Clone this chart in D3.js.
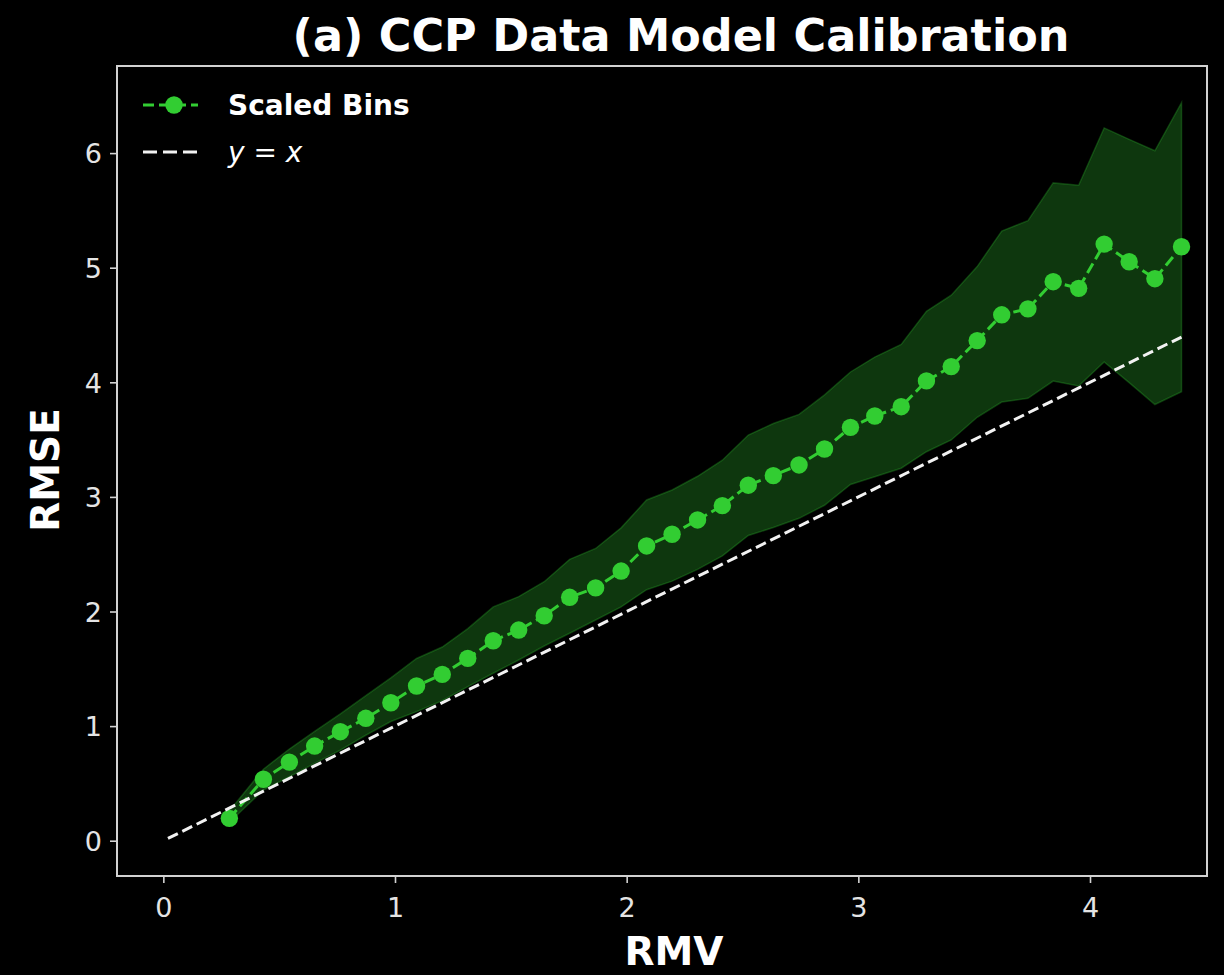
<!DOCTYPE html>
<html>
<head>
<meta charset="utf-8">
<script src="https://cdn.jsdelivr.net/npm/d3@7"></script>
<style>
  html, body { margin: 0; padding: 0; background: #000; }
  svg { display: block; font-family: "DejaVu Sans", sans-serif; }
</style>
</head>
<body>
<svg id="chart" width="1224" height="975"></svg>
<script>
// Binned calibration: mean predicted spread (RMV) vs observed error (RMSE)
const rmv = [0.285, 0.432, 0.544, 0.653, 0.764, 0.874, 0.982, 1.093, 1.204, 1.314,
             1.424, 1.534, 1.644, 1.754, 1.866, 1.976, 2.086, 2.196, 2.306, 2.413,
             2.525, 2.633, 2.744, 2.854, 2.966, 3.071, 3.185, 3.294, 3.401, 3.513,
             3.619, 3.732, 3.841, 3.951, 4.061, 4.169, 4.280, 4.395];
const rmse = [0.195, 0.536, 0.686, 0.826, 0.951, 1.068, 1.204, 1.350, 1.451, 1.591,
              1.745, 1.838, 1.963, 2.124, 2.206, 2.353, 2.572, 2.674, 2.799, 2.924,
              3.102, 3.186, 3.279, 3.418, 3.607, 3.706, 3.787, 4.012, 4.137, 4.364,
              4.589, 4.641, 4.878, 4.820, 5.206, 5.052, 4.904, 5.183];
const rmseUpper = [0.26, 0.624, 0.80, 0.953, 1.106, 1.265, 1.42, 1.59, 1.69, 1.85,
                   2.04, 2.13, 2.26, 2.455, 2.55, 2.73, 2.973, 3.06, 3.18, 3.32,
                   3.54, 3.64, 3.72, 3.89, 4.09, 4.22, 4.33, 4.62, 4.76, 5.01,
                   5.32, 5.41, 5.74, 5.72, 6.22, 6.12, 6.02, 6.44];
const rmseLower = [0.16, 0.442, 0.558, 0.675, 0.79, 0.92, 1.04, 1.126, 1.222, 1.344,
                   1.461, 1.577, 1.699, 1.81, 1.926, 2.04, 2.19, 2.265, 2.368, 2.485,
                   2.663, 2.733, 2.813, 2.927, 3.108, 3.176, 3.25, 3.394, 3.497, 3.695,
                   3.828, 3.86, 4.011, 3.968, 4.177, 3.997, 3.806, 3.918];
const identityRange = [0.02, 4.395];
const xTicks = [0, 1, 2, 3, 4];
const yTicks = [0, 1, 2, 3, 4, 5, 6];

const titleText = "(a) CCP Data Model Calibration";
const xLabel = "RMV";
const yLabel = "RMSE";
const seriesName = "Scaled Bins";

const GREEN = "#32cd32";
const SPINE = "#d2d2d2";
const TICKTXT = "#e4e4e4";

const svg = d3.select("#chart");
svg.append("rect").attr("width", 1224).attr("height", 975).attr("fill", "#000");

const plotLeft = 117, plotRight = 1207, plotTop = 66, plotBottom = 876;
const x = d3.scaleLinear().domain([-0.2, 4.505]).range([plotLeft, plotRight]);
const y = d3.scaleLinear().domain([-0.308, 6.76]).range([plotBottom, plotTop]);

const bins = rmv.map((v, i) => ({ x: v, y: rmse[i], hi: rmseUpper[i], lo: rmseLower[i] }));

const plot = svg.append("g");

// spread band
const area = d3.area().x(d => x(d.x)).y0(d => y(d.lo)).y1(d => y(d.hi));
plot.append("path").datum(bins)
  .attr("d", area)
  .attr("fill", "rgba(50,205,50,0.27)")
  .attr("stroke", "rgba(50,205,50,0.27)")
  .attr("stroke-width", 1.5);

// binned means
const line = d3.line().x(d => x(d.x)).y(d => y(d.y));
plot.append("path").datum(bins)
  .attr("d", line)
  .attr("fill", "none")
  .attr("stroke", GREEN)
  .attr("stroke-width", 3)
  .attr("stroke-dasharray", "11,5");
plot.selectAll("circle.bin").data(bins).enter().append("circle")
  .attr("class", "bin")
  .attr("cx", d => x(d.x)).attr("cy", d => y(d.y))
  .attr("r", 8.7).attr("fill", GREEN);

// identity reference
plot.append("path").datum(identityRange)
  .attr("d", d3.line().x(d => x(d)).y(d => y(d)))
  .attr("fill", "none")
  .attr("stroke", "#f2f2f2")
  .attr("stroke-width", 3)
  .attr("stroke-dasharray", "11,5");

// axes
const xAxis = svg.append("g").attr("transform", `translate(0,${plotBottom})`)
  .call(d3.axisBottom(x).tickValues(xTicks).tickFormat(d3.format("d")).tickSize(7).tickPadding(8));
const yAxis = svg.append("g").attr("transform", `translate(${plotLeft},0)`)
  .call(d3.axisLeft(y).tickValues(yTicks).tickFormat(d3.format("d")).tickSize(7).tickPadding(8));
[xAxis, yAxis].forEach(g => {
  g.select(".domain").remove();
  g.selectAll(".tick line").attr("stroke", SPINE).attr("stroke-width", 1.6);
  g.selectAll(".tick text").attr("fill", TICKTXT)
    .style("font-family", "DejaVu Sans").style("font-size", "27px");
});
xAxis.selectAll(".tick text").attr("dy", "0.95em");
yAxis.selectAll(".tick text").attr("dy", "0.36em");

// frame
svg.append("rect")
  .attr("x", plotLeft).attr("y", plotTop)
  .attr("width", plotRight - plotLeft).attr("height", plotBottom - plotTop)
  .attr("fill", "none").attr("stroke", SPINE).attr("stroke-width", 2);

// titles
svg.append("text").attr("x", 681).attr("y", 51)
  .attr("text-anchor", "middle").attr("fill", "#fff")
  .style("font-weight", "bold").style("font-size", "44.5px").text(titleText);
svg.append("text").attr("x", 674).attr("y", 965)
  .attr("text-anchor", "middle").attr("fill", "#fff")
  .style("font-weight", "bold").style("font-size", "39px").text(xLabel);
svg.append("text").attr("transform", "translate(59,470) rotate(-90)")
  .attr("text-anchor", "middle").attr("fill", "#fff")
  .style("font-weight", "bold").style("font-size", "39px").text(yLabel);

// legend
const lg = svg.append("g");
lg.append("line").attr("x1", 143).attr("x2", 198).attr("y1", 105).attr("y2", 105)
  .attr("stroke", GREEN).attr("stroke-width", 3).attr("stroke-dasharray", "11,5");
lg.append("circle").attr("cx", 174).attr("cy", 105).attr("r", 8.7).attr("fill", GREEN);
lg.append("text").attr("x", 228).attr("y", 115).attr("fill", "#fff")
  .style("font-weight", "bold").style("font-size", "28px").text(seriesName);
lg.append("line").attr("x1", 143).attr("x2", 198).attr("y1", 152).attr("y2", 152)
  .attr("stroke", "#f2f2f2").attr("stroke-width", 3).attr("stroke-dasharray", "14,6");
const eq = lg.append("text").attr("x", 228).attr("y", 162).attr("fill", "#fff")
  .style("font-size", "28px");
eq.append("tspan").style("font-style", "italic").text("y");
eq.append("tspan").text(" = ");
eq.append("tspan").style("font-style", "italic").text("x");
</script>
</body>
</html>
